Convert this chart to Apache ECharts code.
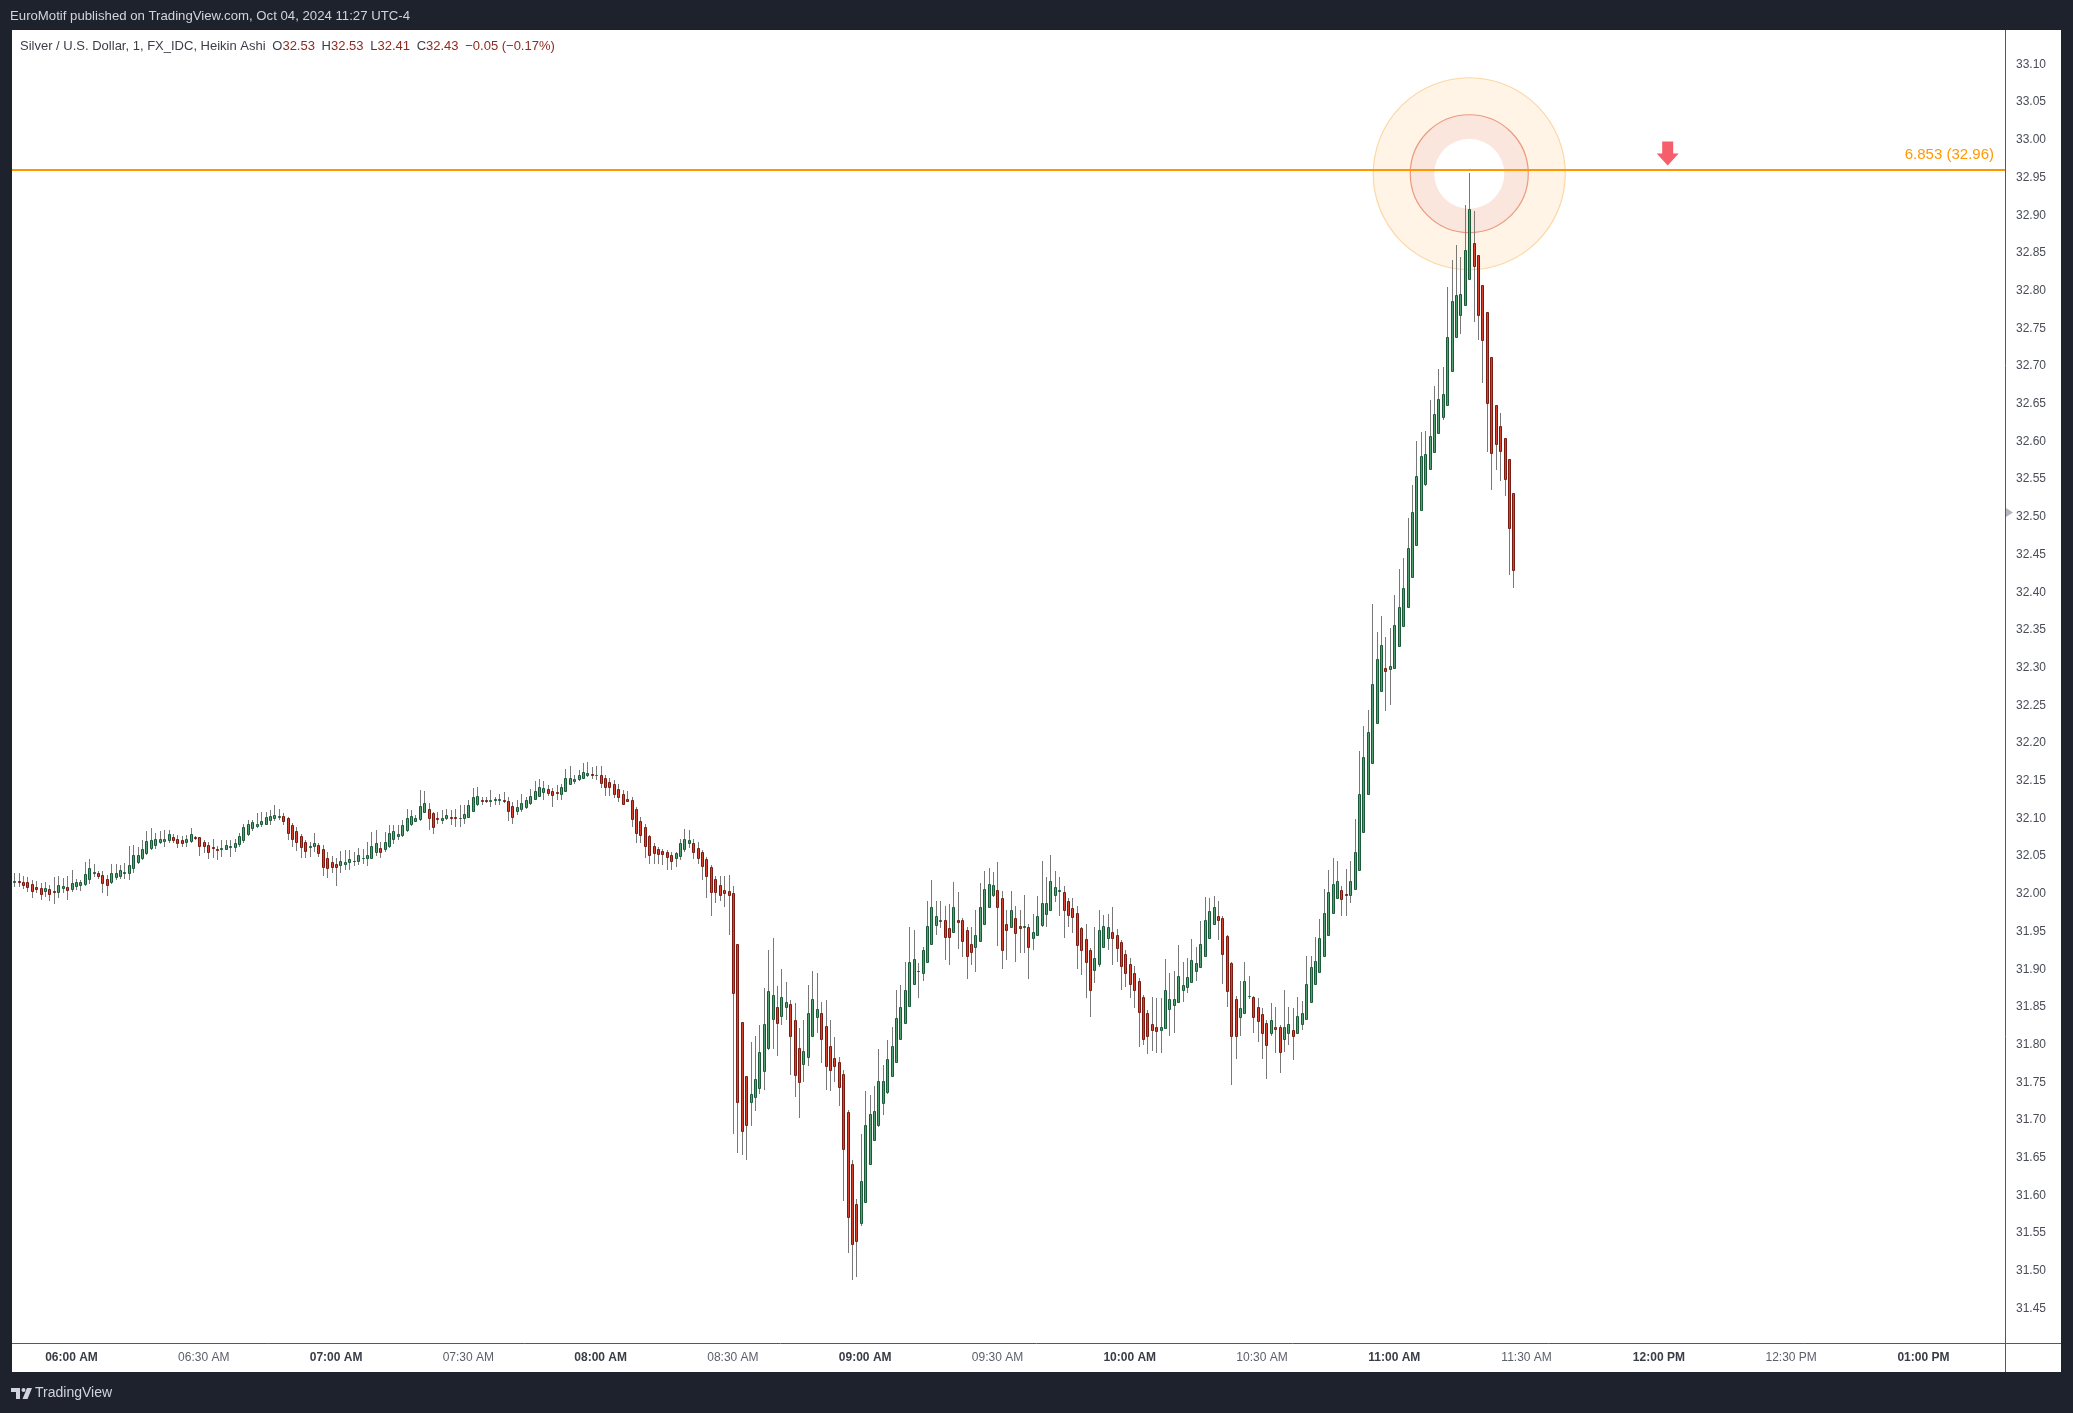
<!DOCTYPE html>
<html><head><meta charset="utf-8">
<script src="https://cdn.jsdelivr.net/npm/echarts@6/dist/echarts.min.js"></script>
<style>html,body{margin:0;padding:0;background:#1e222d;}#c{width:2073px;height:1413px;}</style>
</head><body><div id="c"></div>
<script>
// ---- time categories (1-minute bars, 05:47 .. 13:18) ----
const startMinute = 5 * 60 + 47;
const endMinute = 13 * 60 + 18;
function fmtTime(t) {
  const h24 = Math.floor(t / 60), mm = t % 60;
  const h12 = (h24 % 12) || 12;
  return String(h12).padStart(2, '0') + ':' + String(mm).padStart(2, '0') + ' ' + (h24 < 12 ? 'AM' : 'PM');
}
const categories = [];
for (let t = startMinute; t <= endMinute; t++) categories.push(fmtTime(t));

// ---- Heikin Ashi OHLC, 05:47 .. 11:27 ----
const openP = [
32.016,32.017,32.016,32.015,32.013,32.009,32.008,32.004,32.006,32.004,
32.003,32.008,32.009,32.007,32.011,32.012,32.013,32.019,32.027,32.027,
32.025,32.019,32.016,32.022,32.024,32.027,32.028,32.034,32.042,32.047,
32.054,32.061,32.065,32.069,32.070,32.072,32.075,32.073,32.071,32.069,
32.070,32.075,32.075,32.069,32.065,32.062,32.060,32.059,32.060,32.062,
32.062,32.066,32.071,32.079,32.087,32.090,32.092,32.093,32.098,32.100,
32.102,32.103,32.100,32.091,32.083,32.077,32.069,32.062,32.063,32.065,
32.060,32.048,32.042,32.039,32.038,32.040,32.042,32.044,32.043,32.047,
32.047,32.048,32.056,32.061,32.059,32.063,32.073,32.077,32.078,32.084,
32.092,32.097,32.099,32.108,32.113,32.107,32.100,32.098,32.100,32.102,
32.102,32.100,32.101,32.102,32.110,32.119,32.124,32.124,32.123,32.124,
32.125,32.125,32.123,32.117,32.110,32.112,32.115,32.121,32.126,32.130,
32.135,32.139,32.136,32.135,32.133,32.137,32.146,32.150,32.152,32.154,
32.157,32.159,32.158,32.158,32.153,32.148,32.145,32.139,32.133,32.126,
32.125,32.112,32.096,32.088,32.076,32.064,32.059,32.057,32.055,32.052,
32.048,32.050,32.059,32.067,32.068,32.061,
32.056,32.046,32.035,32.020,32.012,32.005,32.004,32.001,31.934,31.830,
31.758,31.724,31.730,31.742,31.765,31.796,31.834,31.850,31.838,31.850,
31.854,31.833,31.796,31.774,31.783,31.812,31.837,31.842,31.825,31.798,
31.782,31.777,31.761,31.710,31.642,31.589,31.564,31.591,31.642,31.674,
31.693,31.722,31.737,31.759,31.777,31.807,31.828,31.851,31.880,31.898,
31.895,31.910,31.934,31.958,31.964,31.965,31.954,31.949,31.965,31.965,
31.952,31.934,31.929,31.937,31.960,31.983,31.998,32.005,31.994,31.960,
31.956,31.968,31.957,31.956,31.956,31.942,31.946,31.958,31.973,31.979,
31.998,32.004,32.003,31.991,31.981,31.975,
31.954,31.940,31.925,31.899,31.907,31.929,31.942,31.949,31.945,31.936,
31.920,31.907,31.895,31.884,31.863,31.842,31.827,31.823,31.820,31.822,
31.847,31.853,31.857,31.873,31.876,31.883,31.897,31.903,31.918,31.942,
31.960,31.970,31.968,31.944,31.908,31.860,31.836,31.842,31.864,31.863,
31.850,31.840,31.828,31.815,31.824,31.823,31.807,31.815,31.820,31.815,
31.827,31.834,31.857,31.880,31.896,31.918,31.946,31.974,31.994,32.005,
32.000,31.998,32.007,32.032,32.082,32.132,32.174,32.226,32.269,32.299,
32.298,32.300,32.328,32.355,32.380,32.420,32.463,32.509,32.544,32.564,
32.586,32.611,32.633,32.648,32.693,32.739,32.767,32.781,32.816,32.863,
32.847,32.807,32.771,32.712,32.648,32.621,32.604,32.577,32.531
];
const highP = [
32.027,32.027,32.023,32.022,32.018,32.017,32.014,32.016,32.012,32.022,
32.024,32.021,32.023,32.032,32.020,32.018,32.042,32.046,32.040,32.030,
32.030,32.025,32.040,32.040,32.038,32.041,32.063,32.065,32.062,32.071,
32.083,32.087,32.081,32.083,32.085,32.085,32.079,32.078,32.076,32.078,
32.087,32.076,32.075,32.072,32.069,32.073,32.063,32.071,32.071,32.071,
32.073,32.080,32.092,32.098,32.098,32.107,32.109,32.109,32.111,32.118,
32.113,32.107,32.102,32.094,32.089,32.079,32.071,32.069,32.080,32.068,
32.065,32.056,32.050,32.047,32.057,32.058,32.058,32.056,32.061,32.060,
32.069,32.082,32.084,32.069,32.082,32.091,32.091,32.091,32.098,32.113,
32.111,32.104,32.138,32.136,32.120,32.109,32.109,32.111,32.113,32.111,
32.113,32.118,32.118,32.124,32.140,32.141,32.128,32.129,32.138,32.129,
32.132,32.135,32.129,32.122,32.124,32.133,32.129,32.139,32.149,32.152,
32.149,32.144,32.140,32.144,32.146,32.165,32.169,32.157,32.164,32.173,
32.175,32.168,32.169,32.169,32.157,32.153,32.151,32.146,32.138,32.137,
32.129,32.115,32.102,32.093,32.078,32.068,32.062,32.059,32.058,32.055,
32.056,32.073,32.086,32.084,32.073,32.069,
32.058,32.049,32.038,32.023,32.023,32.023,32.025,32.010,31.934,31.830,
31.758,31.803,31.811,31.826,31.875,31.926,31.941,31.878,31.900,31.883,
31.859,31.855,31.822,31.833,31.879,31.898,31.895,31.857,31.859,31.833,
31.810,31.784,31.766,31.713,31.647,31.595,31.682,31.738,31.733,31.745,
31.794,31.773,31.806,31.823,31.873,31.879,31.909,31.956,31.952,31.908,
31.930,31.991,32.018,31.990,31.990,31.984,31.987,32.016,32.002,31.968,
31.956,31.956,31.979,32.014,32.030,32.034,32.029,32.042,32.004,31.979,
32.004,31.984,31.979,31.998,31.960,31.973,31.997,32.044,32.022,32.051,
32.030,32.022,32.010,31.995,31.994,31.984,
31.956,31.960,31.928,31.956,31.978,31.972,31.973,31.982,31.953,31.939,
31.926,31.915,31.904,31.888,31.866,31.846,31.863,31.862,31.862,31.913,
31.895,31.898,31.932,31.909,31.915,31.940,31.930,31.964,31.996,31.995,
31.997,31.990,31.970,31.945,31.910,31.864,31.885,31.910,31.891,31.865,
31.862,31.848,31.833,31.855,31.850,31.826,31.873,31.850,31.848,31.863,
31.858,31.918,31.917,31.943,31.967,32.006,32.031,32.047,32.043,32.011,
32.033,32.043,32.099,32.189,32.223,32.244,32.385,32.347,32.368,32.340,
32.352,32.396,32.431,32.445,32.498,32.542,32.600,32.612,32.614,32.655,
32.673,32.696,32.699,32.805,32.841,32.861,32.844,32.914,32.956,32.906,
32.847,32.807,32.771,32.712,32.648,32.638,32.604,32.577,32.531
];
const lowP = [
32.009,32.009,32.006,32.002,31.995,32.001,31.992,31.996,31.990,31.987,
31.995,32.001,31.992,32.003,32.005,32.004,32.010,32.013,32.022,32.020,
32.001,31.997,32.013,32.018,32.020,32.019,32.018,32.028,32.039,32.045,
32.052,32.058,32.060,32.066,32.062,32.067,32.068,32.061,32.062,32.062,
32.067,32.072,32.050,32.054,32.046,32.048,32.045,32.049,32.058,32.049,
32.055,32.062,32.068,32.076,32.083,32.087,32.089,32.091,32.091,32.097,
32.098,32.091,32.071,32.062,32.057,32.047,32.047,32.049,32.056,32.049,
32.023,32.021,32.027,32.010,32.028,32.032,32.031,32.037,32.038,32.040,
32.037,32.047,32.050,32.047,32.056,32.061,32.066,32.071,32.075,32.082,
32.090,32.096,32.097,32.107,32.084,32.079,32.093,32.093,32.098,32.091,
32.089,32.088,32.093,32.100,32.109,32.117,32.118,32.120,32.115,32.118,
32.118,32.120,32.096,32.093,32.104,32.109,32.113,32.118,32.124,32.129,
32.124,32.130,32.115,32.124,32.124,32.135,32.144,32.146,32.150,32.153,
32.155,32.152,32.151,32.140,32.130,32.130,32.127,32.122,32.118,32.122,
32.089,32.068,32.067,32.047,32.040,32.040,32.039,32.038,32.031,32.031,
32.035,32.045,32.056,32.061,32.046,32.039,
32.018,31.995,31.970,31.988,31.990,31.983,31.945,31.682,31.656,31.653,
31.647,31.692,31.712,31.735,31.740,31.793,31.794,31.785,31.826,31.833,
31.760,31.730,31.703,31.751,31.771,31.811,31.815,31.776,31.740,31.738,
31.750,31.718,31.592,31.523,31.488,31.492,31.559,31.590,31.640,31.674,
31.691,31.707,31.735,31.758,31.777,31.806,31.827,31.850,31.879,31.862,
31.884,31.910,31.933,31.946,31.954,31.912,31.906,31.948,31.927,31.916,
31.887,31.905,31.896,31.937,31.959,31.982,31.996,31.931,31.900,31.912,
31.954,31.910,31.921,31.921,31.887,31.926,31.945,31.956,31.956,31.979,
31.989,31.970,31.941,31.956,31.948,31.900,
31.892,31.862,31.836,31.882,31.903,31.928,31.926,31.905,31.910,31.872,
31.876,31.862,31.848,31.797,31.800,31.787,31.791,31.789,31.789,31.821,
31.812,31.815,31.857,31.857,31.869,31.882,31.885,31.902,31.918,31.942,
31.959,31.939,31.881,31.850,31.746,31.781,31.811,31.841,31.861,31.815,
31.803,31.781,31.755,31.812,31.789,31.762,31.790,31.799,31.779,31.815,
31.820,31.834,31.857,31.880,31.895,31.918,31.946,31.974,31.993,31.970,
31.970,31.988,32.007,32.032,32.081,32.131,32.174,32.226,32.268,32.243,
32.250,32.300,32.328,32.354,32.380,32.419,32.463,32.508,32.541,32.564,
32.585,32.610,32.629,32.647,32.693,32.739,32.742,32.780,32.816,32.759,
32.734,32.678,32.586,32.535,32.562,32.548,32.527,32.423,32.406
];
const closeP = [
32.017,32.016,32.012,32.009,32.004,32.007,32.000,32.008,32.000,32.003,
32.012,32.010,32.005,32.014,32.015,32.015,32.026,32.034,32.029,32.024,
32.014,32.012,32.027,32.028,32.031,32.029,32.038,32.051,32.052,32.059,
32.070,32.072,32.073,32.073,32.073,32.079,32.071,32.068,32.068,32.073,
32.079,32.074,32.064,32.063,32.056,32.061,32.058,32.061,32.065,32.063,
32.067,32.076,32.088,32.093,32.095,32.093,32.096,32.102,32.103,32.105,
32.103,32.096,32.081,32.073,32.069,32.062,32.057,32.063,32.067,32.054,
32.036,32.034,32.035,32.036,32.043,32.042,32.046,32.043,32.051,32.048,
32.051,32.063,32.067,32.055,32.069,32.080,32.083,32.079,32.091,32.101,
32.103,32.101,32.116,32.120,32.100,32.089,32.099,32.101,32.104,32.101,
32.100,32.101,32.106,32.118,32.128,32.130,32.123,32.123,32.125,32.126,
32.126,32.123,32.110,32.102,32.115,32.120,32.125,32.130,32.136,32.142,
32.140,32.134,32.131,32.134,32.141,32.154,32.154,32.152,32.158,32.161,
32.160,32.157,32.158,32.147,32.142,32.141,32.133,32.128,32.119,32.123,
32.099,32.080,32.078,32.063,32.052,32.054,32.053,32.053,32.049,32.044,
32.054,32.068,32.073,32.071,32.055,32.048,
32.037,32.023,32.003,32.003,31.999,32.001,31.998,31.868,31.724,31.686,
31.693,31.734,31.755,31.790,31.827,31.871,31.866,31.828,31.863,31.856,
31.811,31.760,31.751,31.791,31.842,31.861,31.847,31.807,31.772,31.766,
31.772,31.744,31.661,31.571,31.535,31.539,31.619,31.693,31.708,31.712,
31.752,31.752,31.781,31.798,31.835,31.850,31.873,31.909,31.914,31.897,
31.926,31.957,31.983,31.971,31.965,31.943,31.943,31.982,31.963,31.938,
31.917,31.923,31.945,31.982,32.006,32.013,32.012,31.983,31.925,31.952,
31.978,31.948,31.954,31.957,31.929,31.949,31.970,31.988,31.988,32.017,
32.009,32.005,31.979,31.972,31.969,31.932,
31.925,31.910,31.872,31.915,31.952,31.957,31.956,31.941,31.928,31.904,
31.895,31.881,31.873,31.843,31.807,31.812,31.819,31.818,31.823,31.872,
31.860,31.860,31.891,31.879,31.889,31.912,31.908,31.934,31.965,31.977,
31.982,31.965,31.920,31.871,31.812,31.812,31.848,31.884,31.865,31.836,
31.831,31.816,31.800,31.833,31.821,31.790,31.823,31.827,31.811,31.838,
31.842,31.880,31.903,31.911,31.941,31.974,32.002,32.013,32.017,31.993,
31.999,32.017,32.056,32.132,32.182,32.215,32.278,32.311,32.330,32.296,
32.302,32.356,32.381,32.405,32.459,32.507,32.554,32.580,32.583,32.607,
32.636,32.656,32.663,32.738,32.786,32.794,32.795,32.854,32.908,32.832,
32.767,32.735,32.651,32.584,32.596,32.587,32.550,32.485,32.430
];

// ---- annotations ----
const levelPrice = 32.964;
const levelLabel = '6.853 (32.96)';
const circleTime = '11:17 AM';
const circlePrice = 32.955;
const arrowTime = '12:02 PM';

const FONT = "'Liberation Sans', Arial, sans-serif";
const candleData = openP.map((o, i) => [i, o, closeP[i], lowP[i], highP[i]]);

const chart = echarts.init(document.getElementById('c'), null, {renderer: 'canvas'});

function renderCandle(params, api) {
  const x = api.value(0);
  const o = api.value(1), c = api.value(2), l = api.value(3), h = api.value(4);
  const pO = api.coord([x, o]), pC = api.coord([x, c]);
  const pL = api.coord([x, l]), pH = api.coord([x, h]);
  const up = c >= o;
  const cx = Math.round(pO[0]) + 0.5;
  let top = Math.round(Math.min(pO[1], pC[1])) + 0.5;
  let bot = Math.round(Math.max(pO[1], pC[1])) + 0.5;
  return {
    type: 'group',
    children: [
      {type: 'line', shape: {x1: cx, y1: Math.round(pH[1]), x2: cx, y2: Math.round(pL[1])},
       style: {stroke: '#787878', lineWidth: 1}},
      {type: 'rect', shape: {x: cx - 1, y: top, width: 2, height: Math.max(bot - top, 0)},
       style: {fill: up ? '#52a070' : '#d8412d', stroke: up ? '#1b5a38' : '#7a1a11', lineWidth: 1}}
    ]
  };
}

function renderTarget(params, api) {
  const p = api.coord([api.value(0), api.value(1)]);
  return {
    type: 'group',
    children: [
      {type: 'circle', shape: {cx: p[0], cy: p[1], r: 96}, style: {fill: '#fff4e6', stroke: '#fcd7a6', lineWidth: 1.2}},
      {type: 'circle', shape: {cx: p[0], cy: p[1], r: 59}, style: {fill: '#fbe6dd', stroke: '#eb9a7e', lineWidth: 1.2}},
      {type: 'circle', shape: {cx: p[0], cy: p[1], r: 35}, style: {fill: '#ffffff', stroke: null}}
    ]
  };
}

const option = {
  animation: false,
  backgroundColor: '#1e222d',
  grid: {left: 12, right: 68, top: 26.7, bottom: 66.8, containLabel: false, outerBoundsMode: 'none'},
  xAxis: {
    type: 'category',
    data: categories,
    boundaryGap: true,
    axisLine: {show: false},
    axisTick: {show: false},
    splitLine: {show: false},
    axisLabel: {
      interval: (idx, val) => /:(00|30) /.test(val),
      margin: 5,
      formatter: (val) => /:00 /.test(val) ? '{b|' + val + '}' : '{n|' + val + '}',
      rich: {
        b: {fontFamily: FONT, fontSize: 12, fontWeight: 'bold', color: '#3a3d46'},
        n: {fontFamily: FONT, fontSize: 12, color: '#5d606b'}
      }
    }
  },
  yAxis: {
    type: 'value',
    position: 'right',
    min: 31.40, max: 33.15, interval: 0.05,
    axisLine: {show: false},
    axisTick: {show: false},
    splitLine: {show: false},
    axisLabel: {
      showMinLabel: false, showMaxLabel: false,
      margin: 11, align: 'left',
      fontFamily: FONT, fontSize: 12, color: '#4a4d57',
      formatter: (v) => v.toFixed(2)
    }
  },
  graphic: [
    {type: 'rect', z: -10, silent: true, shape: {x: 12, y: 30, width: 2049, height: 1342}, style: {fill: '#ffffff'}},
    {type: 'line', z: 10, silent: true, shape: {x1: 12, y1: 1343.5, x2: 2061, y2: 1343.5}, style: {stroke: '#55585f', lineWidth: 1}},
    {type: 'line', z: 10, silent: true, shape: {x1: 2005.5, y1: 30, x2: 2005.5, y2: 1372}, style: {stroke: '#55585f', lineWidth: 1}},
    {type: 'polygon', z: 10, silent: true, shape: {points: [[2006, 508], [2013, 512.5], [2006, 517]]}, style: {fill: '#b2b5be'}},
    {type: 'text', z: 10, silent: true, x: 10, y: 16,
     style: {text: 'EuroMotif published on TradingView.com, Oct 04, 2024 11:27 UTC-4', fill: '#d1d4dc',
             font: '13.2px ' + FONT, verticalAlign: 'middle'}},
    {type: 'text', z: 10, silent: true, x: 20, y: 46,
     style: {
       text: '{a|Silver / U.S. Dollar, 1, FX_IDC, Heikin Ashi}  {k|O}{v|32.53}  {k|H}{v|32.53}  {k|L}{v|32.41}  {k|C}{v|32.43}  {v|\u22120.05 (\u22120.17%)}',
       verticalAlign: 'middle',
       rich: {
         a: {fontFamily: FONT, fontSize: 13, fill: '#3b3e47'},
         k: {fontFamily: FONT, fontSize: 13, fill: '#3b3e47'},
         v: {fontFamily: FONT, fontSize: 13, fill: '#8e2a20'}
       }
     }},
    // TradingView footer logo + word mark
    {type: 'polygon', z: 10, silent: true, shape: {points: [[11, 1388], [20, 1388], [20, 1399], [16, 1399], [16, 1392], [11, 1392]]}, style: {fill: '#d1d4dc'}},
    {type: 'circle', z: 10, silent: true, shape: {cx: 23.5, cy: 1390, r: 2}, style: {fill: '#d1d4dc'}},
    {type: 'polygon', z: 10, silent: true, shape: {points: [[27, 1388], [32, 1388], [27.5, 1399], [22.5, 1399]]}, style: {fill: '#d1d4dc'}},
    {type: 'text', z: 10, silent: true, x: 35, y: 1393,
     style: {text: 'TradingView', fill: '#d1d4dc', font: '14px ' + FONT, verticalAlign: 'middle'}}
  ],
  series: [
    {
      type: 'custom', name: 'target', z: 1, silent: true,
      renderItem: renderTarget,
      encode: {x: 0, y: 1},
      data: [[circleTime, circlePrice]]
    },
    {
      type: 'custom', name: 'XAGUSD', z: 3,
      renderItem: renderCandle,
      encode: {x: 0, y: [1, 2, 3, 4]},
      data: candleData,
      markLine: {
        silent: true, symbol: 'none', animation: false,
        lineStyle: {color: '#ff9800', width: 2, type: 'solid'},
        label: {show: true, position: 'insideEndTop', formatter: levelLabel, color: '#ff9800',
                fontFamily: FONT, fontSize: 15, distance: [11, 8]},
        data: [{yAxis: levelPrice}]
      }
    },
    {
      type: 'scatter', name: 'arrow', z: 5, silent: true,
      symbol: 'path://M5.5,0 L16.5,0 L16.5,12 L22,12 L11,24 L0,12 L5.5,12 Z',
      symbolSize: [22, 24], symbolOffset: [0, -13.5],
      itemStyle: {color: '#f23645'},
      data: [[arrowTime, levelPrice]]
    }
  ]
};
chart.setOption(option);
</script></body></html>
